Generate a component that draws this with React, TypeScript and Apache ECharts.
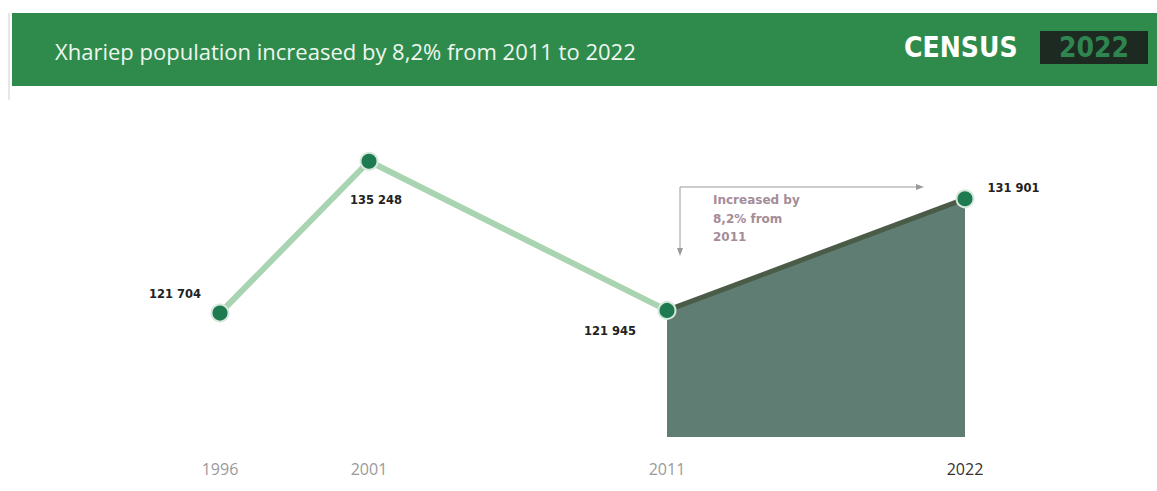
import React, { useEffect, useRef } from "react";
import * as echarts from "echarts";

const years = ["1996", "2001", "2006", "2011", "2016", "2022"];
const shownYears = ["1996", "2001", "2011", "2022"];
const earlyTrend = [121704, 135248, null, 121945, null, null];
const increaseSegment = [null, null, null, 121945, null, 131901];
const titleText = "Xhariep population increased by 8,2% from 2011 to 2022";
const noteLines = ["Increased by", "8,2% from", "2011"];

const fmt = (v: number) => String(v).replace(/\B(?=(\d{3})+(?!\d))/g, " ");

const labelPlacement: Record<string, any> = {
  "1996": { position: "top", distance: 4, offset: [-45, 0] },
  "2001": { position: "bottom", distance: 5, offset: [7, 18] },
  "2011": { position: "bottom", distance: 5, offset: [-57, 0] },
  "2022": { position: "right", distance: 5, offset: [8, -11] },
};

export default function App() {
  const ref = useRef<HTMLDivElement>(null);
  useEffect(() => {
    if (!ref.current) return;
    const chart = echarts.init(ref.current, null, { renderer: "svg" });
    const labelBase = {
      show: true,
      fontFamily: "DejaVu Sans",
      fontWeight: "bold",
      fontSize: 11.5,
      color: "#222",
      formatter: (p: any) => fmt(p.value),
    };
    const lineData = earlyTrend.map((v, i) =>
      v == null
        ? null
        : { value: v, label: { ...labelBase, ...(labelPlacement[years[i]] || {}) } }
    );
    const areaData = increaseSegment.map((v, i) => {
      if (v == null) return null;
      if (years[i] === "2022")
        return { value: v, label: { ...labelBase, ...labelPlacement["2022"] } };
      return { value: v, symbol: "none" };
    });
    chart.setOption({
      animation: false,
      backgroundColor: "#ffffff",
      grid: { left: 220, right: 192, top: 108, bottom: 54 },
      xAxis: {
        type: "category",
        data: years,
        boundaryGap: false,
        axisLine: { show: false },
        axisTick: { show: false },
        splitLine: { show: false },
        axisLabel: {
          interval: 0,
          margin: 24,
          fontFamily: "Open Sans",
          fontSize: 16,
          color: (v: string) => (v === "2022" ? "#333" : "#9a9a9a"),
          formatter: (v: string) => (shownYears.includes(v) ? v : ""),
        },
      },
      yAxis: {
        type: "value",
        min: 110650,
        max: 140000,
        show: false,
        splitLine: { show: false },
      },
      series: [
        {
          type: "line",
          data: areaData,
          connectNulls: true,
          z: 2,
          lineStyle: { color: "#4a5c47", width: 5 },
          areaStyle: { color: "#5f7d72", opacity: 1, origin: "start" },
          symbol: "circle",
          symbolSize: 17,
          itemStyle: { color: "#1e7a50", borderColor: "#d6e9dc", borderWidth: 2 },
        },
        {
          type: "line",
          data: lineData,
          connectNulls: true,
          z: 3,
          lineStyle: { color: "#a9d4b2", width: 6 },
          symbol: "circle",
          symbolSize: 17,
          itemStyle: { color: "#1e7a50", borderColor: "#d6e9dc", borderWidth: 2 },
        },
      ],
      graphic: [
        { type: "rect", shape: { x: 12, y: 13, width: 1145, height: 73 }, style: { fill: "#2f8b4c" } },
        { type: "line", shape: { x1: 9, y1: 13, x2: 9, y2: 100 }, style: { stroke: "#cfcfcf", lineWidth: 1 } },
        {
          type: "text",
          x: 55,
          y: 51,
          style: {
            text: titleText,
            fill: "#eef6ef",
            font: "22px 'Open Sans'",
            textVerticalAlign: "middle",
          },
        },
        {
          type: "text",
          x: 904,
          y: 47,
          style: {
            text: "CENSUS",
            fill: "#ffffff",
            font: "900 28px 'DejaVu Sans Condensed', 'DejaVu Sans'",
            textVerticalAlign: "middle",
          },
        },
        { type: "rect", shape: { x: 1040, y: 31, width: 108, height: 33 }, style: { fill: "#1d2a22" } },
        {
          type: "text",
          x: 1094,
          y: 47,
          style: {
            text: "2022",
            fill: "#2f8550",
            font: "900 28px 'DejaVu Sans Condensed', 'DejaVu Sans'",
            textAlign: "center",
            textVerticalAlign: "middle",
          },
        },
        { type: "line", shape: { x1: 680, y1: 187, x2: 918, y2: 187 }, style: { stroke: "#9a9a9a", lineWidth: 1 } },
        { type: "polygon", shape: { points: [[924, 187], [916, 184], [916, 190]] }, style: { fill: "#9a9a9a" } },
        { type: "line", shape: { x1: 680, y1: 187, x2: 680, y2: 250 }, style: { stroke: "#9a9a9a", lineWidth: 1 } },
        { type: "polygon", shape: { points: [[680, 256], [677, 248], [683, 248]] }, style: { fill: "#9a9a9a" } },
        ...noteLines.map((t, i) => ({
          type: "text",
          x: 713,
          y: 200 + i * 18.5,
          style: {
            text: t,
            fill: "#a48c98",
            font: "bold 12px 'DejaVu Sans'",
            textVerticalAlign: "middle",
          },
        })),
      ],
    });
    return () => chart.dispose();
  }, []);
  return (
    <div
      ref={ref}
      style={{ position: "fixed", left: 0, top: 0, width: 1157, height: 491 }}
    />
  );
}
